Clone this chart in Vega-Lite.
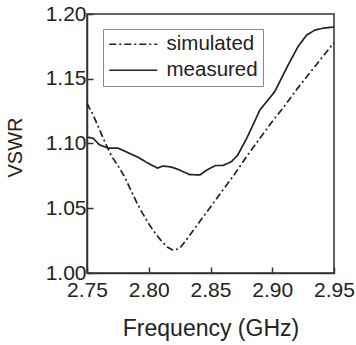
{
  "$schema": "https://vega.github.io/schema/vega-lite/v6.json",
  "width": 247,
  "height": 259,
  "autosize": {"type": "none"},
  "padding": {"left": 87, "top": 14, "right": 22, "bottom": 72},
  "background": "white",
  "config": {
    "view": {"stroke": "#333", "strokeWidth": 1.5},
    "font": "Liberation Sans",
    "axis": {
      "domainColor": "#333",
      "domainWidth": 1.5,
      "tickColor": "#333",
      "tickWidth": 1.5,
      "tickSize": -6,
      "grid": false,
      "labelFont": "Liberation Sans",
      "labelFontSize": 21,
      "labelColor": "#222",
      "labelOverlap": false,
      "labelFlush": false,
      "labelBound": false,
      "titleFont": "Liberation Sans",
      "titleFontWeight": "normal",
      "titleColor": "#222"
    }
  },
  "data": {
    "values": [
      {"f": 2.750, "v": 1.131, "s": "simulated"},
      {"f": 2.755, "v": 1.122, "s": "simulated"},
      {"f": 2.760, "v": 1.111, "s": "simulated"},
      {"f": 2.765, "v": 1.100, "s": "simulated"},
      {"f": 2.770, "v": 1.090, "s": "simulated"},
      {"f": 2.775, "v": 1.083, "s": "simulated"},
      {"f": 2.780, "v": 1.075, "s": "simulated"},
      {"f": 2.785, "v": 1.065, "s": "simulated"},
      {"f": 2.790, "v": 1.055, "s": "simulated"},
      {"f": 2.795, "v": 1.046, "s": "simulated"},
      {"f": 2.800, "v": 1.038, "s": "simulated"},
      {"f": 2.805, "v": 1.031, "s": "simulated"},
      {"f": 2.810, "v": 1.025, "s": "simulated"},
      {"f": 2.815, "v": 1.020, "s": "simulated"},
      {"f": 2.820, "v": 1.0175, "s": "simulated"},
      {"f": 2.825, "v": 1.019, "s": "simulated"},
      {"f": 2.830, "v": 1.025, "s": "simulated"},
      {"f": 2.840, "v": 1.038, "s": "simulated"},
      {"f": 2.850, "v": 1.051, "s": "simulated"},
      {"f": 2.860, "v": 1.064, "s": "simulated"},
      {"f": 2.870, "v": 1.077, "s": "simulated"},
      {"f": 2.880, "v": 1.091, "s": "simulated"},
      {"f": 2.890, "v": 1.104, "s": "simulated"},
      {"f": 2.900, "v": 1.117, "s": "simulated"},
      {"f": 2.910, "v": 1.129, "s": "simulated"},
      {"f": 2.920, "v": 1.142, "s": "simulated"},
      {"f": 2.930, "v": 1.154, "s": "simulated"},
      {"f": 2.940, "v": 1.166, "s": "simulated"},
      {"f": 2.950, "v": 1.178, "s": "simulated"},
      {"f": 2.750, "v": 1.105, "s": "measured"},
      {"f": 2.755, "v": 1.104, "s": "measured"},
      {"f": 2.760, "v": 1.099, "s": "measured"},
      {"f": 2.767, "v": 1.0965, "s": "measured"},
      {"f": 2.775, "v": 1.0965, "s": "measured"},
      {"f": 2.783, "v": 1.093, "s": "measured"},
      {"f": 2.791, "v": 1.0895, "s": "measured"},
      {"f": 2.799, "v": 1.085, "s": "measured"},
      {"f": 2.807, "v": 1.081, "s": "measured"},
      {"f": 2.8115, "v": 1.0826, "s": "measured"},
      {"f": 2.817, "v": 1.082, "s": "measured"},
      {"f": 2.821, "v": 1.081, "s": "measured"},
      {"f": 2.825, "v": 1.0795, "s": "measured"},
      {"f": 2.833, "v": 1.076, "s": "measured"},
      {"f": 2.8415, "v": 1.0757, "s": "measured"},
      {"f": 2.847, "v": 1.0795, "s": "measured"},
      {"f": 2.854, "v": 1.083, "s": "measured"},
      {"f": 2.860, "v": 1.083, "s": "measured"},
      {"f": 2.867, "v": 1.086, "s": "measured"},
      {"f": 2.872, "v": 1.091, "s": "measured"},
      {"f": 2.8793, "v": 1.104, "s": "measured"},
      {"f": 2.8844, "v": 1.1143, "s": "measured"},
      {"f": 2.890, "v": 1.1259, "s": "measured"},
      {"f": 2.902, "v": 1.140, "s": "measured"},
      {"f": 2.9128, "v": 1.1605, "s": "measured"},
      {"f": 2.9208, "v": 1.1747, "s": "measured"},
      {"f": 2.9279, "v": 1.1838, "s": "measured"},
      {"f": 2.9346, "v": 1.1876, "s": "measured"},
      {"f": 2.9411, "v": 1.189, "s": "measured"},
      {"f": 2.950, "v": 1.190, "s": "measured"}
    ]
  },
  "mark": {"type": "line", "color": "#222", "strokeWidth": 1.7},
  "encoding": {
    "x": {
      "field": "f",
      "type": "quantitative",
      "scale": {"domain": [2.75, 2.95], "nice": false, "zero": false},
      "axis": {
        "title": "Frequency (GHz)",
        "titleFontSize": 23,
        "values": [2.75, 2.8, 2.85, 2.9, 2.95],
        "format": ".2f",
        "labelPadding": 12,
        "titlePadding": 17
      }
    },
    "y": {
      "field": "v",
      "type": "quantitative",
      "scale": {"domain": [1.0, 1.2], "nice": false, "zero": false},
      "axis": {
        "title": "VSWR",
        "titleFontSize": 20,
        "titleY": 133,
        "values": [1.0, 1.05, 1.1, 1.15, 1.2],
        "format": ".2f",
        "labelPadding": 7,
        "titlePadding": 20
      }
    },
    "strokeDash": {
      "field": "s",
      "type": "nominal",
      "scale": {"domain": ["simulated", "measured"], "range": [[7, 3, 2, 3], [1, 0]]},
      "legend": {
        "title": null,
        "orient": "none",
        "legendX": 16,
        "legendY": 15,
        "strokeColor": "#888",
        "fillColor": "white",
        "padding": 5,
        "labelFont": "Liberation Sans",
        "labelFontSize": 20.5,
        "labelColor": "#222",
        "labelOffset": 38,
        "rowPadding": 5,
        "symbolType": "M-1,0H4.33",
        "symbolSize": 324,
        "symbolStrokeWidth": 1.7,
        "symbolStrokeColor": "#222"
      }
    }
  }
}
